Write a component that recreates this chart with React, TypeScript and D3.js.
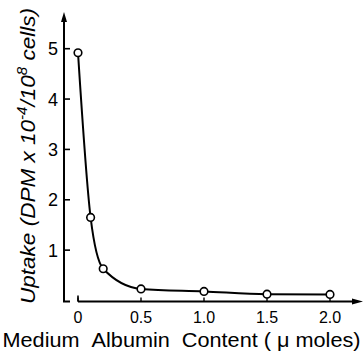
import React from "react";
import * as d3 from "d3";

const albumin = [0, 0.1, 0.2, 0.5, 1.0, 1.5, 2.0];
const uptake = [4.92, 1.65, 0.63, 0.23, 0.18, 0.125, 0.12];
const xTicks = [0, 0.5, 1.0, 1.5, 2.0];
const xTickLabels = ["0", "0.5", "1.0", "1.5", "2.0"];
const yTicks = [1, 2, 3, 4, 5];

const W = 364;
const H = 352;
const FONT = "'Liberation Sans Narrow', 'Liberation Sans', Arial, sans-serif";

export default function App() {
  const x = d3.scaleLinear().domain([0, 2]).range([78, 330]);
  const y = d3.scaleLinear().domain([0, 5]).range([300.5, 48.7]);
  const pts = albumin.map((a, i) => [x(a), y(uptake[i])] as [number, number]);
  const line = d3.line().curve(d3.curveMonotoneX)(pts) || "";
  const axisY = 301.5;
  const axisX = 64;
  return (
    <div style={{ position: "absolute", left: 0, top: 0 }}>
      <svg width={W} height={H} style={{ display: "block", background: "#fff" }}>
        {/* y axis */}
        <line x1={axisX} y1={axisY} x2={axisX} y2={20} stroke="#000" strokeWidth={2} />
        <path d={`M${axisX - 3},${22} L${axisX},${12} L${axisX + 3},${22} Z`} fill="#000" />
        <line x1={axisX - 1} y1={axisY} x2={70} y2={axisY} stroke="#000" strokeWidth={2} />
        {yTicks.map((t) => (
          <g key={t}>
            <line x1={axisX} y1={y(t)} x2={axisX + 6} y2={y(t)} stroke="#000" strokeWidth={1.6} />
            <text x={58} y={y(t)} dy="0.36em" textAnchor="end" fontFamily={FONT} fontSize={18}>
              {t}
            </text>
          </g>
        ))}
        {/* x axis */}
        <line x1={x(0)} y1={axisY} x2={354} y2={axisY} stroke="#000" strokeWidth={2} />
        <path d={`M352,${axisY - 3} L363,${axisY} L352,${axisY + 3} Z`} fill="#000" />
        <line x1={x(0)} y1={axisY} x2={x(0)} y2={axisY - 6} stroke="#000" strokeWidth={1.6} />
        {xTicks.map((t, i) => (
          <g key={t}>
            <line x1={x(t)} y1={axisY} x2={x(t)} y2={axisY - 4} stroke="#000" strokeWidth={1.4} />
            <text x={x(t)} y={323} textAnchor="middle" fontFamily={FONT} fontSize={16}>
              {xTickLabels[i]}
            </text>
          </g>
        ))}
        <text
          x={181.5}
          y={347}
          textAnchor="middle"
          fontFamily={FONT}
          fontSize={20}
          textLength={358}
          lengthAdjust="spacingAndGlyphs"
        >
          Medium{"\u00a0\u00a0"}Albumin{"\u00a0\u00a0"}Content{"\u00a0"}({"\u00a0"}μ moles)
        </text>
        {/* y label */}
        <text
          transform="translate(35,156) rotate(-90)"
          textAnchor="middle"
          fontFamily={FONT}
          fontStyle="italic"
          fontSize={21}
          textLength={296}
          lengthAdjust="spacingAndGlyphs"
        >
          Uptake (DPM x 10
          <tspan dy={-8} fontSize={14}>-4</tspan>
          <tspan dy={8}>/10</tspan>
          <tspan dy={-8} fontSize={14}>8</tspan>
          <tspan dy={8}> cells)</tspan>
        </text>
        {/* curve */}
        <path d={line} fill="none" stroke="#000" strokeWidth={2} />
        {pts.map((p, i) => (
          <circle key={i} cx={p[0]} cy={p[1]} r={3.8} fill="#fff" stroke="#000" strokeWidth={1.6} />
        ))}
      </svg>
    </div>
  );
}
